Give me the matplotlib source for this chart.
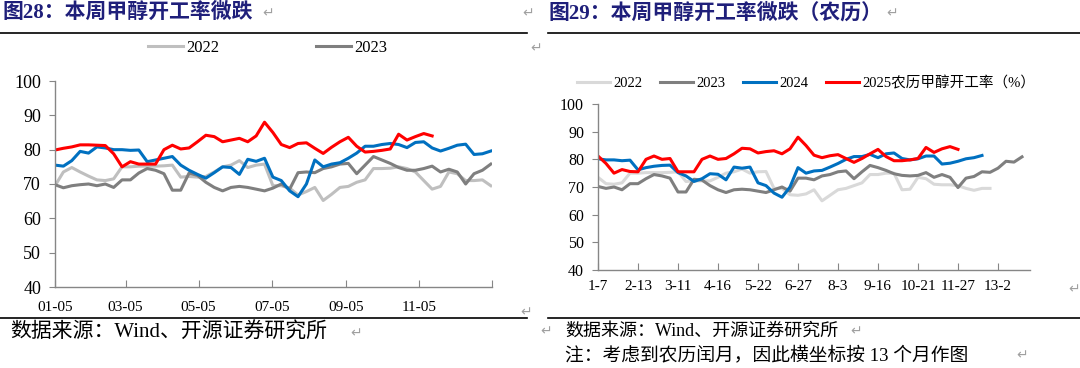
import pandas as pd
import matplotlib.pyplot as plt
from matplotlib.lines import Line2D

# ---- data: left chart (weekly, calendar) ----
cal_2022 = [69.5, 73.5, 74.8, 73.5, 72.3, 71.2, 71.0, 71.5, 75.0, 75.0, 75.2, 75.2, 75.2, 75.3,
            75.5, 72.0, 72.2, 72.0, 72.2, 73.5, 75.0, 75.5, 76.8, 74.8, 75.5, 75.8, 69.5, 69.5,
            68.8, 66.8, 67.8, 69.0, 65.2, 67.0, 69.0, 69.3, 70.5, 71.2, 74.5, 74.5, 74.6, 75.0,
            74.5, 73.5, 71.0, 68.5, 69.3, 73.5, 73.0, 71.0, 71.0, 71.2, 69.5]
cal_2023 = [69.8, 68.9, 69.5, 69.8, 70.0, 69.5, 70.0, 69.0, 71.2, 71.2, 73.2, 74.5, 74.0, 73.0,
            68.2, 68.2, 73.2, 72.5, 70.5, 69.0, 68.0, 69.0, 69.3, 69.0, 68.5, 68.0, 68.8, 70.0,
            68.5, 73.3, 73.5, 73.3, 74.5, 75.0, 75.8, 76.0, 73.0, 75.5, 78.0, 77.0, 76.0, 74.8,
            74.0, 74.0, 74.5, 75.2, 73.5, 74.3, 73.5, 70.0, 73.0, 74.0, 75.8]
cal_2024 = [75.5, 75.2, 76.8, 79.5, 79.0, 80.8, 80.5, 80.0, 80.0, 79.8, 79.9, 76.5, 77.0, 77.5,
            78.0, 75.5, 74.0, 72.8, 71.7, 73.3, 75.0, 74.8, 72.8, 77.2, 76.6, 77.5, 72.0, 71.0,
            68.0, 66.3, 70.0, 77.0, 75.0, 75.8, 76.2, 77.5, 79.0, 81.0, 81.0, 81.5, 81.8, 81.5,
            80.6, 82.1, 82.3, 80.5, 79.6, 80.4, 81.3, 81.6, 78.6, 78.8, 79.6]
cal_2025 = [79.9, 80.4, 80.8, 81.4, 81.4, 81.3, 81.2, 78.8, 75.0, 76.5, 75.8, 75.8, 75.8, 80.0,
            81.3, 80.2, 80.5, 82.3, 84.2, 83.8, 82.3, 82.8, 83.3, 82.3, 84.0, 88.0, 85.0, 81.5,
            80.6, 81.8, 82.0, 80.4, 78.9, 80.7, 82.3, 83.6, 81.0, 79.3, 79.5, 79.8, 80.2, 84.5,
            82.8, 83.8, 84.7, 84.0]
cal_ticks = ["01-05", "03-05", "05-05", "07-05", "09-05", "11-05"]

# ---- data: right chart (weekly, lunar calendar, 13 months) ----
lun_2022 = [73.5, 71.2, 71.0, 71.5, 75.0, 75.0, 75.2, 75.2, 75.2, 75.3, 75.5, 72.0, 72.2, 72.2,
            72.2, 73.5, 75.0, 75.5, 76.5, 75.0, 75.5, 75.6, 69.5, 69.5, 67.2, 67.0, 67.5, 69.0,
            65.0, 67.0, 69.0, 69.5, 70.5, 71.5, 74.5, 74.5, 75.0, 75.0, 69.0, 69.2, 73.5, 73.0,
            71.0, 70.8, 70.8, 70.5, 69.5, 68.8, 69.5, 69.5]
lun_2023 = [70.2, 69.5, 70.0, 69.0, 71.2, 71.2, 73.0, 74.5, 74.0, 73.2, 68.2, 68.2, 72.8, 72.5,
            70.5, 69.0, 68.0, 69.0, 69.2, 69.0, 68.5, 68.0, 69.0, 70.0, 68.5, 73.2, 73.2, 72.6,
            74.0, 74.5, 75.5, 75.8, 73.0, 75.5, 77.8, 77.0, 76.0, 74.8, 74.2, 74.0, 74.2, 75.2,
            73.5, 74.5, 73.5, 69.8, 73.2, 73.8, 75.5, 75.3, 76.8, 79.3, 79.0, 80.9]
lun_2024 = [80.2, 79.8, 79.8, 79.5, 79.7, 76.2, 77.0, 77.5, 77.8, 77.9, 75.2, 74.0, 72.0, 73.0,
            74.8, 74.6, 72.6, 77.2, 76.8, 77.2, 71.5, 70.5, 67.8, 66.3, 70.0, 77.0, 75.0, 75.8,
            76.0, 77.2, 78.5, 80.0, 81.0, 81.0, 81.8, 80.6, 82.0, 82.3, 80.3, 79.8, 80.2, 81.2,
            81.2, 78.3, 78.6, 79.3, 80.2, 80.6, 81.4]
lun_2025 = [81.2, 78.5, 75.0, 76.3, 75.6, 75.5, 80.0, 81.2, 80.0, 80.3, 75.5, 75.5, 75.5, 80.0,
            81.2, 80.0, 80.3, 82.0, 84.0, 83.8, 82.3, 82.8, 83.1, 82.0, 83.8, 88.0, 85.0, 81.5,
            80.6, 81.3, 81.7, 80.3, 78.9, 80.3, 82.0, 83.6, 81.0, 79.5, 79.5, 79.8, 80.3, 84.3,
            82.5, 83.8, 84.6, 83.6]
lun_ticks = ["1-7", "2-13", "3-11", "4-16", "5-22", "6-27", "8-3", "9-16", "10-21", "11-27", "13-2"]

C22_L, C22_R, C23, C24, C25 = "#BFBFBF", "#D9D9D9", "#7F7F7F", "#0070C0", "#FF0000"
SERIF = ["Liberation Serif", "Noto Sans CJK SC"]
TITLE_C = "#1F1F7A"
W, H = 1080, 368

plt.rcParams["font.family"] = SERIF

fig = plt.figure(figsize=(W / 100, H / 100), dpi=100)


def box(x0, y0, x1, y1):
    # pixel box (top-left origin) -> figure fraction
    return [x0 / W, 1 - y1 / H, (x1 - x0) / W, (y1 - y0) / H]


def style_axes(ax, fs, xfs):
    for s in ["top", "right"]:
        ax.spines[s].set_visible(False)
    for s in ["left", "bottom"]:
        ax.spines[s].set_color("#868686")
        ax.spines[s].set_linewidth(1.0)
    ax.set_ylim(40, 100)
    ax.set_yticks(range(40, 101, 10))
    ax.tick_params(axis="y", direction="out", length=4, color="#868686", labelsize=fs, pad=6)
    ax.tick_params(axis="x", direction="in", length=5, color="#868686", labelsize=xfs, pad=10)


# ---- left chart ----
ax1 = fig.add_axes(box(55, 81, 492, 287))
ax1.plot(range(len(cal_2022)), cal_2022, color=C22_L, lw=2.2)
ax1.plot(range(len(cal_2023)), cal_2023, color=C23, lw=2.2)
ax1.plot(range(len(cal_2024)), cal_2024, color=C24, lw=2.2)
ax1.plot(range(len(cal_2025)), cal_2025, color=C25, lw=2.2)
start = pd.Timestamp("2023-01-05")
tick_pos = [(pd.Timestamp("2023-" + t) - start).days / 7 for t in cal_ticks]
end_pos = (pd.Timestamp("2024-01-05") - start).days / 7
ax1.set_xlim(0, end_pos)
ax1.set_xticks(tick_pos + [end_pos])
ax1.set_xticklabels(cal_ticks + [""])
style_axes(ax1, 13, 11)

fig.legend(handles=[Line2D([], [], color=C22_L, lw=2.2), Line2D([], [], color=C23, lw=2.2)],
           labels=["2022", "2023"], loc="center", bbox_to_anchor=(268 / W, 1 - 48 / H),
           ncol=2, frameon=False, fontsize=12, handlelength=2.1, handletextpad=0.2,
           columnspacing=5.8)

# ---- right chart ----
ax2 = fig.add_axes(box(598, 104, 1030, 270))
ax2.plot(range(len(lun_2022)), lun_2022, color=C22_R, lw=2.2)
ax2.plot(range(len(lun_2023)), lun_2023, color=C23, lw=2.2)
ax2.plot(range(len(lun_2024)), lun_2024, color=C24, lw=2.2)
ax2.plot(range(len(lun_2025)), lun_2025, color=C25, lw=2.2)
ax2.set_xlim(0, 54)
ax2.set_xticks(range(0, 5 * len(lun_ticks), 5))
ax2.set_xticklabels(lun_ticks)
style_axes(ax2, 11.5, 11)
ax2.tick_params(axis="x", pad=7)

fig.legend(handles=[Line2D([], [], color=c, lw=2.2) for c in [C22_R, C23, C24, C25]],
           labels=["2022", "2023", "2024", "2025农历甲醇开工率（%）"], loc="center",
           bbox_to_anchor=(806 / W, 1 - 83 / H), ncol=4, frameon=False, fontsize=10.5,
           handlelength=2.3, handletextpad=0.2, columnspacing=1.2)

# ---- titles, rules, sources ----
fig.text(3 / W, 1 - 13 / H, "图28：本周甲醇开工率微跌", fontsize=15, fontweight="bold",
         color=TITLE_C, va="center", ha="left")
fig.text(548 / W, 1 - 13 / H, "图29：本周甲醇开工率微跌（农历）", fontsize=15,
         fontweight="bold", color=TITLE_C, va="center", ha="left")
for x0, x1 in [(0, 527), (548, 1080)]:
    fig.add_artist(Line2D([x0 / W, x1 / W], [1 - 33 / H] * 2, color="black", lw=1.2))
    fig.add_artist(Line2D([x0 / W, x1 / W], [1 - 318 / H] * 2, color="black", lw=1.2))

fig.text(10 / W, 1 - 333 / H, "数据来源：Wind、开源证券研究所", fontsize=15, va="center")
fig.text(565 / W, 1 - 331 / H, "数据来源：Wind、开源证券研究所", fontsize=13, va="center")
fig.text(565 / W, 1 - 355 / H, "注：考虑到农历闰月，因此横坐标按 13 个月作图", fontsize=13.5,
         va="center")

for x, y in [(262, 13), (522, 13), (886, 13), (530, 48), (350, 333), (850, 331),
             (1016, 355), (520, 312), (1068, 289), (540, 331)]:
    fig.text(x / W, 1 - y / H, "↵", fontsize=10, color="#A0A0A0", va="center",
             family="DejaVu Sans")

fig.savefig("out.png", dpi=100)
